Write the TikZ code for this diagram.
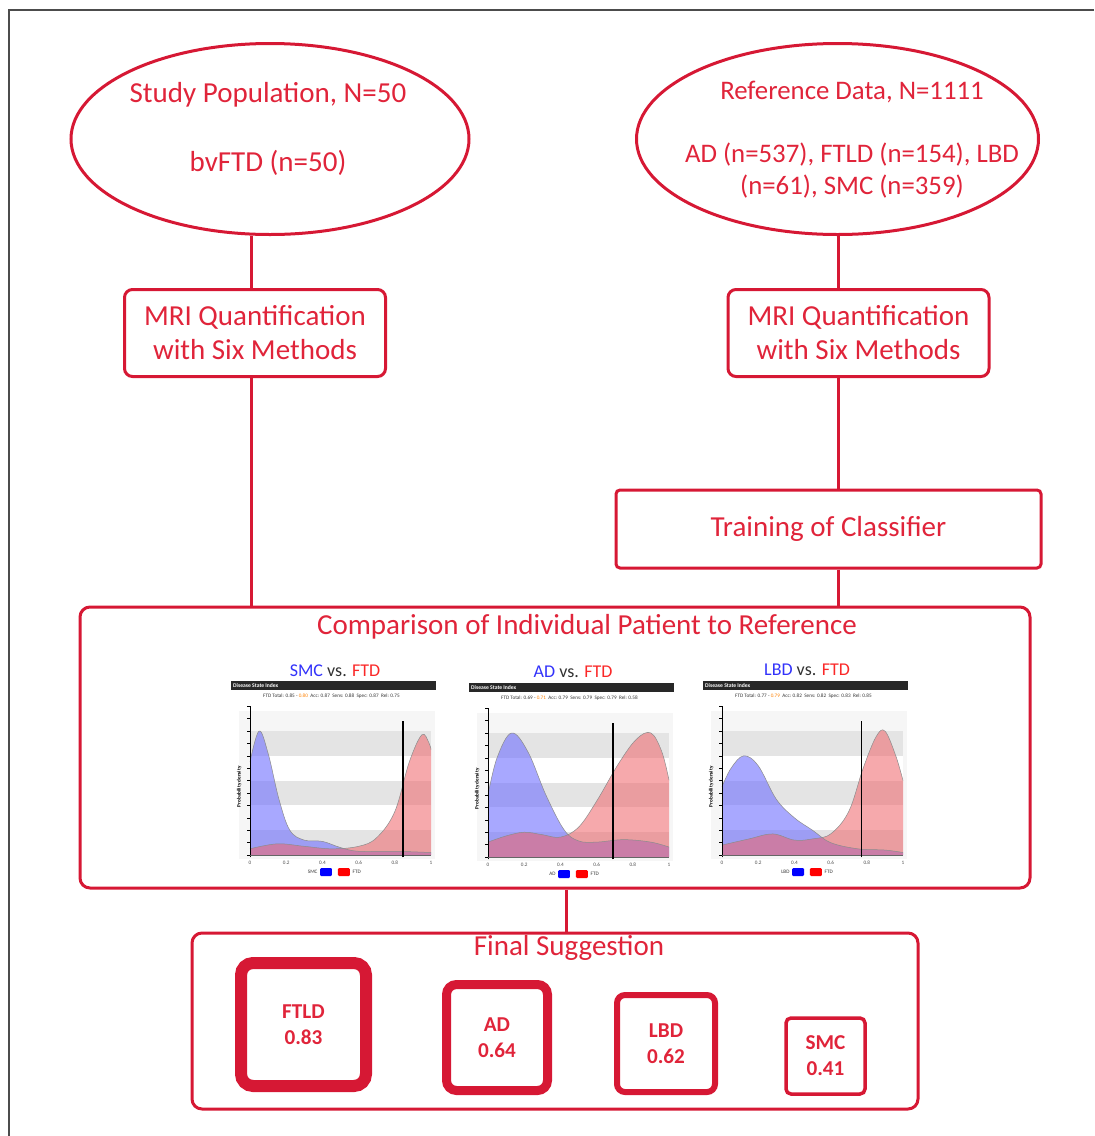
\documentclass[tikz,border=0pt]{standalone}
\usepackage{fontspec}
\setmainfont{Carlito}
\usetikzlibrary{shapes.geometric}
\definecolor{myred}{RGB}{214,24,52}
\definecolor{txtred}{RGB}{224,36,58}
\definecolor{chartblue}{RGB}{50,50,250}
\definecolor{chartred}{RGB}{250,40,40}
\definecolor{bluefill}{RGB}{110,110,255}
\definecolor{redfill}{RGB}{240,100,105}
\definecolor{plotbg}{RGB}{246,246,246}
\definecolor{bandgray}{RGB}{228,228,228}
\definecolor{hdrgray}{RGB}{40,40,40}
\definecolor{vsgray}{RGB}{50,50,50}

\tikzset{
 bigtxt/.style={font=\fontsize{14.5}{17}\selectfont, text=txtred, inner sep=0pt, align=center},
 redbox/.style={draw=myred, line width=1.5pt, rounded corners=4pt, inner sep=0pt, align=center, text=txtred, font=\fontsize{14.5}{17}\selectfont},
 conn/.style={draw=myred, line width=1.5pt},
 oval/.style={ellipse, draw=myred, line width=1.5pt, inner sep=0pt},
 sugbox/.style={draw=myred, inner sep=0pt, align=center, text=txtred, font=\fontsize{10.6}{13}\selectfont\bfseries},
 tinytxt/.style={font=\fontsize{2.6}{3}\selectfont, inner sep=0pt},
}

\newcommand\chartpanel[8]{%
\begin{scope}[shift={(#1,#2)}, x=90.5pt, y=62pt]
 \fill[plotbg] (-0.06,-0.03) rectangle (1.02,1.16);
 \fill[white] (0,0.2) rectangle (1,0.4);
 \fill[white] (0,0.6) rectangle (1,0.8);
 \foreach \b in {0,0.4,0.8} \fill[bandgray] (0,\b) rectangle (1,\b+0.2);
 \fill[bluefill, fill opacity=0.6] (0,0) -- plot[smooth, tension=0.6] coordinates {#4} -- (1,0) -- cycle;
 \fill[redfill, fill opacity=0.55] (0,0) -- plot[smooth, tension=0.6] coordinates {#5} -- (1,0) -- cycle;
 \draw[black!45, line width=0.25pt] plot[smooth, tension=0.6] coordinates {#4};
 \draw[black!45, line width=0.25pt] plot[smooth, tension=0.6] coordinates {#5};
 \draw[black, line width=0.4pt] (0,-0.02) -- (0,1.2);
 \draw[black!60, line width=0.3pt] (0,0) -- (1,0);
 \foreach \t in {0,0.1,...,1.21} \draw[black, line width=0.25pt] (0,\t) -- (-0.015,\t);
 \draw[black, line width=0.8pt] (#6,-0.02) -- (#6,1.08);
 \foreach \xv/\xl in {0/0,0.2/0.2,0.4/0.4,0.6/0.6,0.8/0.8,1/1}
   \node[tinytxt, text=black!70] at (\xv,-0.065) {\xl};
 \node[tinytxt, rotate=90, font=\fontsize{2.6}{3}\selectfont\bfseries] (#8y) at (-0.06,0.55) {Probability density};
 \fill[hdrgray] (-0.105,1.33) rectangle (1.028,1.403);
 \node[tinytxt, text=white, anchor=west, font=\fontsize{2.8}{3}\selectfont\bfseries] (#8h) at (-0.095,1.366) {Disease State Index};
 \node[tinytxt, text=black!80] (#8s) at (0.45,1.28) {#7};
 \node[font=\fontsize{9}{10}\selectfont, inner sep=0pt] (#8t) at (0.47,1.49)
   {\textcolor{chartblue}{#3} \textcolor{vsgray}{vs.} \textcolor{chartred}{FTD}};
 \node[tinytxt, anchor=east, text=black!80] (#8l) at (0.375,-0.137) {#3};
 \fill[blue, rounded corners=0.6pt] (0.387,-0.17) rectangle (0.453,-0.105);
 \fill[red, rounded corners=0.6pt] (0.486,-0.17) rectangle (0.552,-0.105);
 \node[tinytxt, anchor=west, text=black!80] (#8r) at (0.565,-0.137) {FTD};
\end{scope}}

\begin{document}
\begin{tikzpicture}[x=0.5pt,y=-0.5pt]
\useasboundingbox (0,0) rectangle (1094,1136);
\draw[line width=0.8pt, color=black!70] (9,1136) -- (9,10) -- (1094,10);

% top ellipses
\node[oval, minimum width=199pt, minimum height=95.5pt] (ell1) at (270,139) {};
\node[oval, minimum width=201pt, minimum height=95.5pt] (ell2) at (837.5,139) {};
\node[bigtxt] (t1a) at (268,95) {Study Population, N=50};
\node[bigtxt] (t1b) at (268,163) {bvFTD (n=50)};
\node[bigtxt, font=\fontsize{13.4}{16}\selectfont] (t2a) at (852,92) {Reference Data, N=1111};
\node[bigtxt, font=\fontsize{13.4}{16}\selectfont] (t2b) at (852,171) {AD (n=537), FTLD (n=154), LBD\\(n=61), SMC (n=359)};

% boxes
\node[redbox, minimum width=130.5pt, minimum height=43.5pt] (mri1) at (255,333) {MRI Quantification\\with Six Methods};
\node[redbox, minimum width=130.5pt, minimum height=43.5pt] (mri2) at (858.5,333) {MRI Quantification\\with Six Methods};
\node[redbox, rounded corners=2pt, minimum width=212.5pt, minimum height=39pt] (train) at (828.5,529) {Training of Classifier};
\node[redbox, rounded corners=5pt, minimum width=475pt, minimum height=140.5pt] (comp) at (555,747.5) {};
\node[bigtxt] (compt) at (587,627) {Comparison of Individual Patient to Reference};
\node[redbox, rounded corners=5pt, minimum width=363pt, minimum height=88pt] (final) at (555,1021) {};
\node[bigtxt] (finalt) at (569,948) {Final Suggestion};

% connectors
\coordinate (lx) at (251,0);
\coordinate (rx) at (838,0);
\coordinate (mx) at (566,0);
\draw[conn] (ell1.south -| lx) -- (mri1.north -| lx);
\draw[conn] (mri1.south -| lx) -- (comp.north -| lx);
\draw[conn] (ell2.south -| rx) -- (mri2.north -| rx);
\draw[conn] (mri2.south -| rx) -- (train.north -| rx);
\draw[conn] (train.south -| rx) -- (comp.north -| rx);
\draw[conn] (comp.south -| mx) -- (final.north -| mx);

% charts
\chartpanel{250}{855}{SMC}
 {(0,0.75) (0.05,1.0) (0.1,0.82) (0.16,0.45) (0.22,0.2) (0.3,0.12) (0.4,0.11) (0.5,0.06) (0.6,0.03) (0.8,0.03) (1,0.02)}
 {(0,0.05) (0.15,0.09) (0.3,0.07) (0.45,0.05) (0.6,0.07) (0.7,0.14) (0.8,0.35) (0.88,0.75) (0.95,0.97) (0.99,0.9) (1,0.85)}
 {0.845}{FTD Total: 0.85 - \textcolor{orange}{0.80}\ \ Acc: 0.87\ \ Sens: 0.88\ \ Spec: 0.87\ \ Rel: 0.75}{ca}
\chartpanel{488}{857}{AD}
 {(0,0.5) (0.05,0.8) (0.13,1.0) (0.22,0.85) (0.32,0.5) (0.42,0.22) (0.5,0.13) (0.6,0.12) (0.75,0.14) (0.9,0.12) (1,0.08)}
 {(0,0.12) (0.1,0.17) (0.2,0.2) (0.3,0.18) (0.4,0.16) (0.5,0.24) (0.6,0.45) (0.72,0.75) (0.82,0.95) (0.9,1.0) (0.96,0.85) (1,0.62)}
 {0.69}{FTD Total: 0.69 - \textcolor{orange}{0.71}\ \ Acc: 0.79\ \ Sens: 0.79\ \ Spec: 0.79\ \ Rel: 0.58}{cb}
\chartpanel{722}{855}{LBD}
 {(0,0.55) (0.05,0.7) (0.12,0.8) (0.2,0.72) (0.3,0.45) (0.4,0.3) (0.5,0.2) (0.6,0.1) (0.75,0.05) (0.9,0.04) (1,0.02)}
 {(0,0.08) (0.15,0.13) (0.28,0.17) (0.4,0.12) (0.5,0.13) (0.6,0.17) (0.7,0.35) (0.78,0.7) (0.85,0.95) (0.9,1.0) (0.96,0.8) (1,0.6)}
 {0.77}{FTD Total: 0.77 - \textcolor{orange}{0.79}\ \ Acc: 0.82\ \ Sens: 0.82\ \ Spec: 0.83\ \ Rel: 0.85}{cc}

% suggestion boxes
\node[sugbox, line width=6pt, rounded corners=6pt, minimum width=62.5pt, minimum height=61.5pt] (sftld) at (303.5,1024.5) {FTLD\\0.83};
\node[sugbox, line width=4.5pt, rounded corners=5pt, minimum width=50.5pt, minimum height=53pt] (sad) at (497,1037.5) {AD\\0.64};
\node[sugbox, line width=3pt, rounded corners=4pt, minimum width=49pt, minimum height=48.5pt] (slbd) at (666,1043.5) {LBD\\0.62};
\node[sugbox, line width=1.75pt, rounded corners=2.5pt, minimum width=39.5pt, minimum height=38pt] (ssmc) at (825.5,1056) {SMC\\0.41};
\end{tikzpicture}
\end{document}
